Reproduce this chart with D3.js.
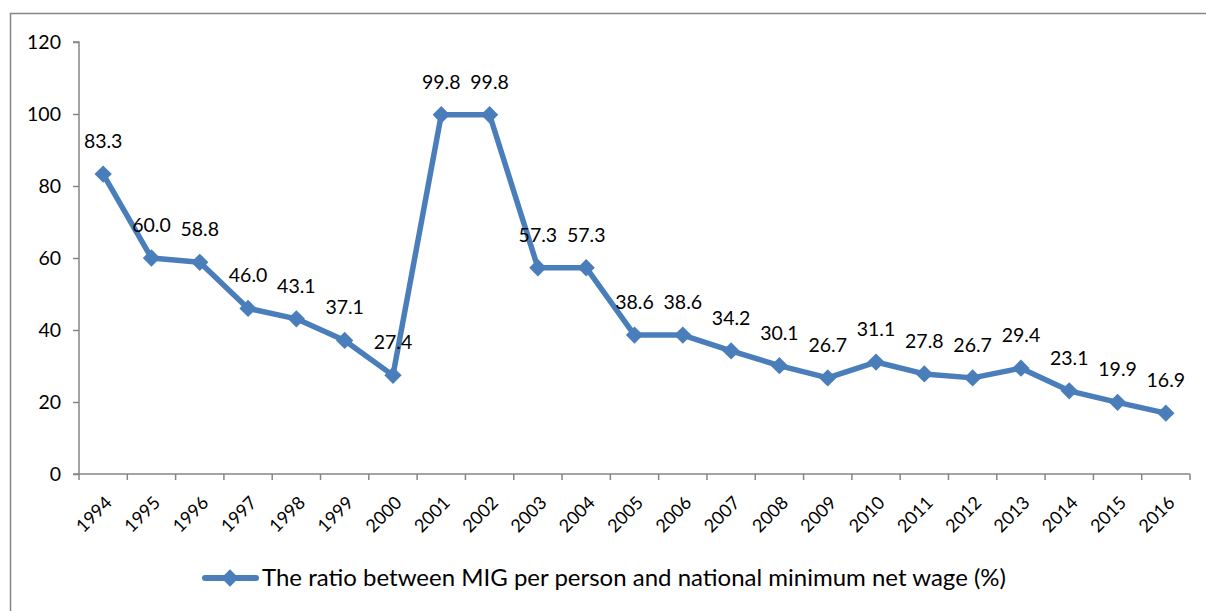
<!DOCTYPE html>
<html><head><meta charset="utf-8">
<script src="https://cdn.jsdelivr.net/npm/d3@7"></script>
<style>body{margin:0;background:#fff;} text{font-family:Lato,"Open Sans",sans-serif;fill:#000;}</style>
</head><body>
<svg id="c" width="1206" height="611"></svg>
<script>
const years = ["1994","1995","1996","1997","1998","1999","2000","2001","2002","2003","2004","2005","2006","2007","2008","2009","2010","2011","2012","2013","2014","2015","2016"];
const ratio = [83.3,60.0,58.8,46.0,43.1,37.1,27.4,99.8,99.8,57.3,57.3,38.6,38.6,34.2,30.1,26.7,31.1,27.8,26.7,29.4,23.1,19.9,16.9];
const yTicks = [0,20,40,60,80,100,120];
const seriesName = "The ratio between MIG per person and national minimum net wage (%)";

const svg = d3.select("#c");
const blue = "#4a7ebb", grey = "#868686";
svg.append("rect").attr("x",10.5).attr("y",13.5).attr("width",1250).attr("height",650)
  .attr("fill","none").attr("stroke",grey).attr("stroke-width",1.5);

const L=79, R=1190, T=42, B=474;
const x = d3.scaleBand().domain(years).range([L,R]);
const y = d3.scaleLinear().domain([0,120]).range([B,T]);

// y axis
const ya = svg.append("g").attr("transform",`translate(${L},0)`)
  .call(d3.axisLeft(y).tickValues(yTicks).tickSize(6).tickPadding(12));
ya.select(".domain").attr("stroke",grey).attr("stroke-width",1.5).attr("d",`M-6,${T}H0V${B}H-6`);
ya.selectAll(".tick line").attr("stroke",grey).attr("stroke-width",1.5);
ya.selectAll(".tick text").style("font-size","19.5px").attr("fill","#000");

// x axis
const xa = svg.append("g").attr("transform",`translate(0,${B})`);
xa.append("line").attr("x1",L).attr("x2",R).attr("stroke",grey).attr("stroke-width",1.5);
const bounds = years.map(d=>x(d)).concat([R]);
xa.selectAll("line.tk").data(bounds).join("line").attr("class","tk")
  .attr("x1",d=>d).attr("x2",d=>d).attr("y1",0).attr("y2",6).attr("stroke",grey).attr("stroke-width",1.5);
xa.selectAll("text").data(years).join("text")
  .attr("transform",d=>`translate(${x(d)+x.bandwidth()/2+1},${21}) rotate(-45)`)
  .attr("text-anchor","end").attr("dy","0.7em").style("font-size","18px").text(d=>d);

// line
const cx = d=>x(d)+x.bandwidth()/2;
const line = d3.line().x((d,i)=>cx(years[i])).y(d=>y(d));
svg.append("path").datum(ratio).attr("d",line).attr("fill","none")
  .attr("stroke",blue).attr("stroke-width",5.5).attr("stroke-linejoin","round");
const diamond = d3.symbol().type(d3.symbolSquare).size(150);
svg.selectAll("path.m").data(ratio).join("path").attr("class","m")
  .attr("d",diamond).attr("fill",blue)
  .attr("transform",(d,i)=>`translate(${cx(years[i])},${y(d)}) rotate(45)`);
svg.selectAll("text.lbl").data(ratio).join("text").attr("class","lbl")
  .attr("x",(d,i)=>cx(years[i])).attr("y",d=>y(d)-26)
  .attr("text-anchor","middle").style("font-size","19.5px").text(d=>d.toFixed(1));

// legend
const lg = svg.append("g").attr("transform","translate(0,578)");
lg.append("line").attr("x1",205).attr("x2",256).attr("stroke",blue).attr("stroke-width",6).attr("stroke-linecap","round");
lg.append("path").attr("d",diamond).attr("fill",blue).attr("transform","translate(230,0) rotate(45)");
lg.append("text").attr("x",262).attr("dy","0.35em").style("font-size","24px").text(seriesName);
</script>
</body></html>
